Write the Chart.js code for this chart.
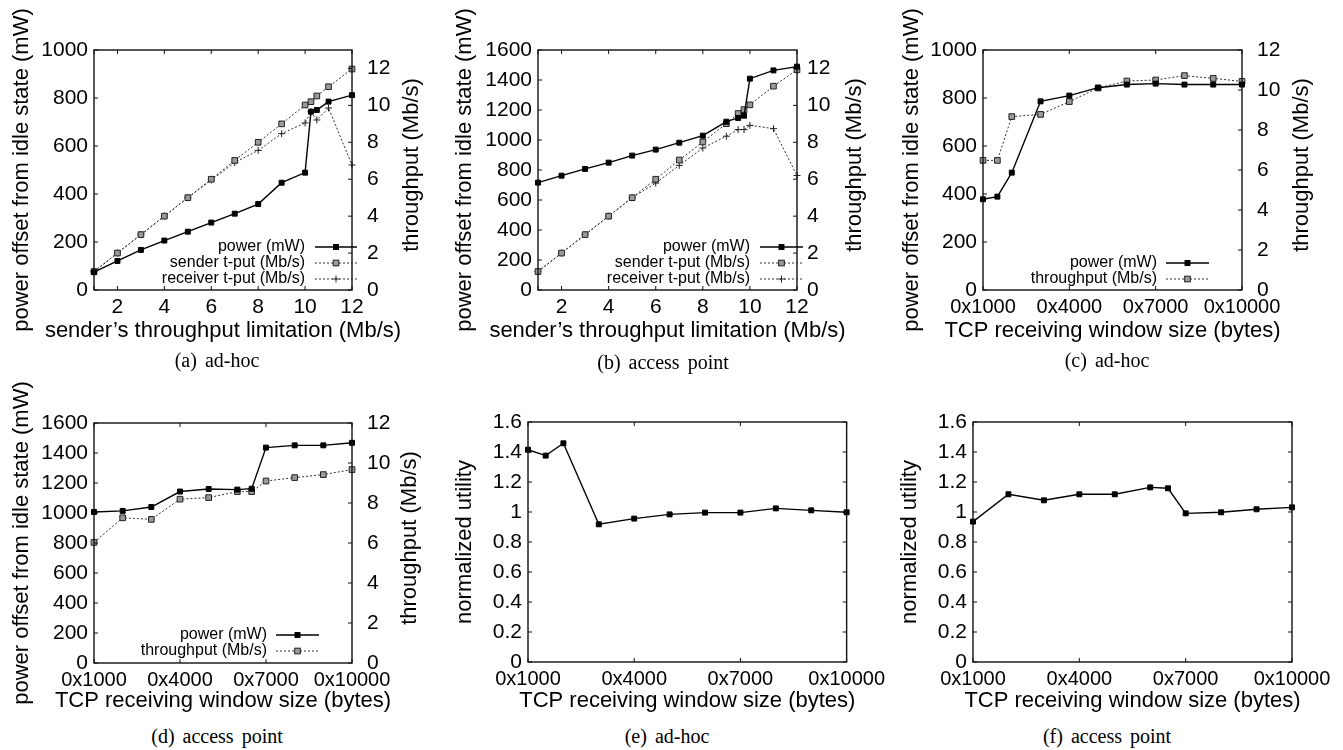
<!DOCTYPE html>
<html>
<head>
<meta charset="utf-8">
<script src="https://cdn.jsdelivr.net/npm/chart.js@4.4.1/dist/chart.umd.min.js"></script>
<style>
  body { margin: 0; background: #fff; width: 1343px; height: 750px; position: relative; overflow: hidden; }
  canvas { position: absolute; }
  .cap { position: absolute; font-family: "Liberation Serif", "Times New Roman", serif; font-size: 20px;
         line-height: 24px; color: #000; transform: translateX(-50%); white-space: nowrap; word-spacing: 3px; }
</style>
</head>
<body>
<canvas id="ca" width="440" height="348" style="left:0;top:0"></canvas>
<canvas id="cb" width="450" height="348" style="left:440px;top:0"></canvas>
<canvas id="cc" width="453" height="348" style="left:890px;top:0"></canvas>
<canvas id="cd" width="440" height="348" style="left:0;top:370px"></canvas>
<canvas id="ce" width="450" height="348" style="left:440px;top:370px"></canvas>
<canvas id="cf" width="453" height="348" style="left:890px;top:370px"></canvas>
<div class="cap" style="left:217px;top:348px">(a) ad-hoc</div>
<div class="cap" style="left:663px;top:350px">(b) access point</div>
<div class="cap" style="left:1107px;top:348px">(c) ad-hoc</div>
<div class="cap" style="left:217px;top:724px">(d) access point</div>
<div class="cap" style="left:667px;top:724px">(e) ad-hoc</div>
<div class="cap" style="left:1107px;top:724px">(f) access point</div>
<script>
// (a) ad-hoc, sweep of the sender's rate limit
const limitA = [1, 2, 3, 4, 5, 6, 7, 8, 9, 10, 10.25, 10.5, 11, 12];
const powerA = [74, 121, 167, 206, 243, 281, 318, 358, 447, 489, 743, 750, 785, 812];
const senderA = [1, 2, 3, 4, 5, 6, 7.02, 8, 9, 10.02, 10.2, 10.51, 11.01, 11.97];
const receiverA = [1, 2, 3, 4, 5, 5.96, 6.9, 7.56, 8.47, 9.05, 9.66, 9.21, 9.86, 6.77];

// (b) access point, same sweep
const limitB = [1, 2, 3, 4, 5, 6, 7, 8, 9, 9.5, 9.75, 10, 11, 12];
const powerB = [716, 762, 807, 849, 896, 936, 982, 1029, 1122, 1147, 1162, 1409, 1464, 1489];
const senderB = [1, 2, 3, 4, 5, 6, 7.04, 8.02, 9.01, 9.56, 9.77, 10.03, 11.04, 11.93];
const receiverB = [1, 2, 3, 4, 5, 5.79, 6.75, 7.69, 8.33, 8.69, 8.69, 8.92, 8.74, 6.2];

// (c)-(f) TCP window sweep, x is the slot on the window axis
const winPosC = [0, 0.5, 1, 2, 3, 4, 5, 6, 7, 8, 9];
const powerC = [378, 389, 489, 786, 810, 843, 856, 860, 856, 856, 856];
const tputC = [6.48, 6.48, 8.67, 8.78, 9.42, 10.1, 10.45, 10.5, 10.72, 10.58, 10.43];

const winPosD = [0, 1, 2, 3, 4, 5, 5.5, 6, 7, 8, 9];
const powerD = [1007, 1014, 1040, 1143, 1160, 1156, 1162, 1436, 1451, 1451, 1468];
const tputD = [6.03, 7.26, 7.18, 8.19, 8.27, 8.57, 8.57, 9.1, 9.27, 9.42, 9.67];

const winPosE = [0, 0.5, 1, 2, 3, 4, 5, 6, 7, 8, 9];
const utilE = [1.415, 1.376, 1.458, 0.918, 0.956, 0.984, 0.996, 0.996, 1.024, 1.011, 0.998];

const winPosF = [0, 1, 2, 3, 4, 5, 5.5, 6, 7, 8, 9];
const utilF = [0.936, 1.118, 1.078, 1.118, 1.118, 1.164, 1.158, 0.991, 0.998, 1.018, 1.031];

// ticks
const limitTicks = [1, 2, 4, 6, 8, 10, 12];
const winTicks = [0, 3, 6, 9];
const winLabels = ["0x1000", "0x4000", "0x7000", "0x10000"];
const powerTicks1000 = [0, 200, 400, 600, 800, 1000];
const powerTicks1600 = [0, 200, 400, 600, 800, 1000, 1200, 1400, 1600];
const tputTicks = [0, 2, 4, 6, 8, 10, 12];
const utilTicks = [0, 0.2, 0.4, 0.6, 0.8, 1, 1.2, 1.4, 1.6];

const FONT = '"Liberation Sans", Arial, Helvetica, sans-serif';
const INK = "#000";

function pts(xs, ys) { return xs.map((x, i) => ({ x: x, y: ys[i] })); }

function solidSet(label, xs, ys, axis) {
  return { label: label, data: pts(xs, ys), yAxisID: axis, borderColor: "#000", borderWidth: 1.4,
    pointStyle: "rect", pointRadius: 3.5, pointBackgroundColor: "#000", pointBorderColor: "#000",
    pointBorderWidth: 1, clip: false, tension: 0 };
}
function boxSet(label, xs, ys, axis) {
  return { label: label, data: pts(xs, ys), yAxisID: axis, borderColor: "#333", borderWidth: 1,
    borderDash: [2, 2], pointStyle: "rect", pointRadius: 4, pointBackgroundColor: "#9a9a9a",
    pointBorderColor: "#222", pointBorderWidth: 1, clip: false, tension: 0 };
}
function plusSet(label, xs, ys, axis) {
  return { label: label, data: pts(xs, ys), yAxisID: axis, borderColor: "#333", borderWidth: 1,
    borderDash: [2, 2], pointStyle: "cross", pointRadius: 3.5, pointBorderColor: "#222",
    pointBorderWidth: 1, clip: false, tension: 0 };
}

function drawMark(ctx, ds, x, y) {
  const r = ds.pointRadius * Math.SQRT1_2;
  ctx.setLineDash([]);
  ctx.lineWidth = 1;
  if (ds.pointStyle === "rect") {
    ctx.fillStyle = ds.pointBackgroundColor;
    ctx.fillRect(x - r, y - r, 2 * r, 2 * r);
    ctx.strokeStyle = ds.pointBorderColor;
    ctx.strokeRect(x - r, y - r, 2 * r, 2 * r);
  } else {
    ctx.strokeStyle = ds.pointBorderColor;
    ctx.beginPath();
    ctx.moveTo(x - ds.pointRadius, y); ctx.lineTo(x + ds.pointRadius, y);
    ctx.moveTo(x, y - ds.pointRadius); ctx.lineTo(x, y + ds.pointRadius);
    ctx.stroke();
  }
}

function vText(ctx, text, x, y) {
  ctx.save();
  ctx.translate(x, y);
  ctx.rotate(-Math.PI / 2);
  ctx.fillText(text, 0, 0);
  ctx.restore();
}

// gnuplot look: closed frame, inward ticks, titles at full width, key inside the plot
const gnuFrame = {
  id: "gnuFrame",
  afterDatasetsDraw(chart, args, opts) {
    const { ctx, chartArea: a, scales } = chart;
    const tl = 4;
    ctx.save();
    ctx.strokeStyle = "#111";
    ctx.lineWidth = 1;
    ctx.beginPath();
    scales.x.ticks.forEach(t => {
      const px = scales.x.getPixelForValue(t.value);
      ctx.moveTo(px, a.bottom); ctx.lineTo(px, a.bottom - tl);
      ctx.moveTo(px, a.top); ctx.lineTo(px, a.top + tl);
    });
    scales.y.ticks.forEach(t => {
      const py = scales.y.getPixelForValue(t.value);
      ctx.moveTo(a.left, py); ctx.lineTo(a.left + tl, py);
      if (!scales.y2) { ctx.moveTo(a.right, py); ctx.lineTo(a.right - tl, py); }
    });
    if (scales.y2) {
      scales.y2.ticks.forEach(t => {
        const py = scales.y2.getPixelForValue(t.value);
        ctx.moveTo(a.right, py); ctx.lineTo(a.right - tl, py);
      });
    }
    ctx.stroke();
    ctx.lineWidth = 1.4;
    ctx.strokeRect(a.left, a.top, a.right - a.left, a.bottom - a.top);

    ctx.font = "22px " + FONT;
    ctx.fillStyle = INK;
    ctx.textAlign = "center";
    ctx.textBaseline = "middle";
    const midY = (a.top + a.bottom) / 2;
    ctx.fillText(opts.xTitle, (a.left + a.right) / 2, opts.xTitleY);
    vText(ctx, opts.yTitle, opts.yTitleX, midY);
    if (opts.y2Title) vText(ctx, opts.y2Title, opts.y2TitleX, midY - 5);

    const lg = opts.key;
    if (lg) {
      chart.data.datasets.forEach((ds, i) => {
        const y = a.bottom + lg.rows[i];
        const x0 = a.right + lg.from, x1 = a.right + lg.to;
        ctx.font = "16px " + FONT;
        ctx.fillStyle = INK;
        ctx.textAlign = "right";
        ctx.textBaseline = "middle";
        ctx.fillText(ds.label, x0 - lg.gap, y);
        ctx.beginPath();
        ctx.setLineDash(ds.borderDash || []);
        ctx.strokeStyle = ds.borderColor;
        ctx.lineWidth = ds.borderWidth;
        ctx.moveTo(x0, y); ctx.lineTo(x1, y);
        ctx.stroke();
        drawMark(ctx, ds, (x0 + x1) / 2, y);
      });
    }
    ctx.restore();
  }
};

function numLabel(v) { return String(+v.toFixed(2)); }

function makeChart(p) {
  const el = document.getElementById(p.id);
  const W = el.width, H = el.height;
  const tickFont = { family: FONT, size: 21 };
  const scales = {
    x: {
      type: "linear", min: p.xMin, max: p.xMax,
      afterBuildTicks: s => { s.ticks = p.xTicks.map(v => ({ value: v })); },
      afterFit: s => { s.height = H - p.area.bottom; },
      grid: { display: false, drawTicks: false }, border: { display: false },
      ticks: { font: { family: FONT, size: p.xFont }, color: INK, padding: 5, maxRotation: 0, autoSkip: false, callback: p.xLabel }
    },
    y: {
      type: "linear", position: "left", min: p.yMin, max: p.yMax,
      afterBuildTicks: s => { s.ticks = p.yTicks.map(v => ({ value: v })); },
      afterFit: s => { s.width = p.area.left; },
      grid: { display: false, drawTicks: false }, border: { display: false },
      ticks: { font: tickFont, color: INK, padding: 6, callback: numLabel }
    }
  };
  if (p.y2Ticks) {
    scales.y2 = {
      type: "linear", position: "right", min: 0, max: p.y2Max,
      afterBuildTicks: s => { s.ticks = p.y2Ticks.map(v => ({ value: v })); },
      afterFit: s => { s.width = W - p.area.right; },
      grid: { display: false, drawTicks: false }, border: { display: false },
      ticks: { font: tickFont, color: INK, padding: p.y2Pad, callback: numLabel }
    };
  }
  return new Chart(el, {
    type: "line",
    data: { datasets: p.datasets },
    options: {
      responsive: false, animation: false, events: [],
      layout: { padding: { top: p.area.top, left: 0, bottom: 0, right: p.y2Ticks ? 0 : W - p.area.right } },
      scales: scales,
      plugins: {
        legend: { display: false }, tooltip: { enabled: false },
        gnuFrame: {
          xTitle: p.xTitle, xTitleY: 331, yTitle: p.yTitle, yTitleX: p.yTitleX,
          y2Title: p.y2Title, y2TitleX: p.y2TitleX, key: p.key
        }
      }
    },
    plugins: [gnuFrame]
  });
}

const limitTitle = "sender\u2019s throughput limitation (Mb/s)";
const winTitle = "TCP receiving window size (bytes)";
const powerTitle = "power offset from idle state (mW)";
const tputTitle = "throughput (Mb/s)";
const winLabel = v => winLabels[winTicks.indexOf(v)];
const limitLabel = v => (v === 1 ? "" : String(v));

makeChart({
  id: "ca", area: { left: 94, right: 352, top: 50, bottom: 290 },
  xMin: 1, xMax: 12, xTicks: limitTicks, xLabel: limitLabel, xFont: 21, xTitle: limitTitle,
  yMin: 0, yMax: 1000, yTicks: powerTicks1000, yTitle: powerTitle, yTitleX: 22,
  y2Max: 13, y2Ticks: tputTicks, y2Pad: 15, y2Title: tputTitle, y2TitleX: 412,
  key: { rows: [-43, -27, -11], from: -37, to: 5, gap: 10 },
  datasets: [
    solidSet("power (mW)", limitA, powerA, "y"),
    boxSet("sender t-put (Mb/s)", limitA, senderA, "y2"),
    plusSet("receiver t-put (Mb/s)", limitA, receiverA, "y2")
  ]
});

makeChart({
  id: "cb", area: { left: 98, right: 357, top: 50, bottom: 290 },
  xMin: 1, xMax: 12, xTicks: limitTicks, xLabel: limitLabel, xFont: 21, xTitle: limitTitle,
  yMin: 0, yMax: 1600, yTicks: powerTicks1600, yTitle: powerTitle, yTitleX: 25,
  y2Max: 13, y2Ticks: tputTicks, y2Pad: 10, y2Title: tputTitle, y2TitleX: 415,
  key: { rows: [-43, -27, -11], from: -37, to: 6, gap: 10 },
  datasets: [
    solidSet("power (mW)", limitB, powerB, "y"),
    boxSet("sender t-put (Mb/s)", limitB, senderB, "y2"),
    plusSet("receiver t-put (Mb/s)", limitB, receiverB, "y2")
  ]
});

makeChart({
  id: "cc", area: { left: 93, right: 352, top: 50, bottom: 290 },
  xMin: 0, xMax: 9, xTicks: winTicks, xLabel: winLabel, xFont: 20, xTitle: winTitle,
  yMin: 0, yMax: 1000, yTicks: powerTicks1000, yTitle: powerTitle, yTitleX: 22,
  y2Max: 12, y2Ticks: tputTicks, y2Pad: 15, y2Title: tputTitle, y2TitleX: 412,
  key: { rows: [-27, -11], from: -76, to: -33, gap: 9 },
  datasets: [
    solidSet("power (mW)", winPosC, powerC, "y"),
    boxSet("throughput (Mb/s)", winPosC, tputC, "y2")
  ]
});

makeChart({
  id: "cd", area: { left: 94, right: 352, top: 53, bottom: 293 },
  xMin: 0, xMax: 9, xTicks: winTicks, xLabel: winLabel, xFont: 20, xTitle: winTitle,
  yMin: 0, yMax: 1600, yTicks: powerTicks1600, yTitle: powerTitle, yTitleX: 22,
  y2Max: 12, y2Ticks: tputTicks, y2Pad: 15, y2Title: tputTitle, y2TitleX: 410,
  key: { rows: [-28, -12], from: -76, to: -33, gap: 9 },
  datasets: [
    solidSet("power (mW)", winPosD, powerD, "y"),
    boxSet("throughput (Mb/s)", winPosD, tputD, "y2")
  ]
});

makeChart({
  id: "ce", area: { left: 88, right: 407, top: 52, bottom: 292 },
  xMin: 0, xMax: 9, xTicks: winTicks, xLabel: winLabel, xFont: 20, xTitle: winTitle,
  yMin: 0, yMax: 1.6, yTicks: utilTicks, yTitle: "normalized utility", yTitleX: 25,
  datasets: [solidSet("normalized utility", winPosE, utilE, "y")]
});

makeChart({
  id: "cf", area: { left: 83, right: 402, top: 52, bottom: 292 },
  xMin: 0, xMax: 9, xTicks: winTicks, xLabel: winLabel, xFont: 20, xTitle: winTitle,
  yMin: 0, yMax: 1.6, yTicks: utilTicks, yTitle: "normalized utility", yTitleX: 20,
  datasets: [solidSet("normalized utility", winPosF, utilF, "y")]
});
</script>
</body>
</html>
